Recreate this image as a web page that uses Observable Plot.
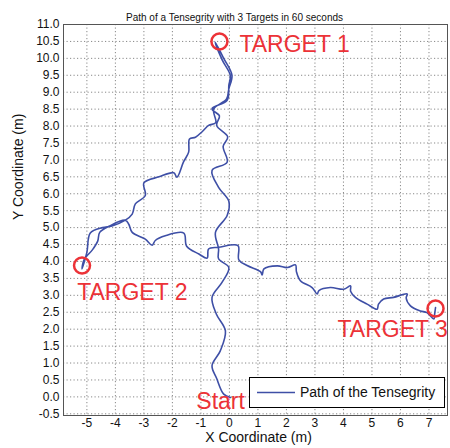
<!DOCTYPE html>
<html>
<head>
<meta charset="utf-8">
<script src="https://cdn.jsdelivr.net/npm/d3@7"></script>
<script src="https://cdn.jsdelivr.net/npm/@observablehq/plot@0.6"></script>
<style>
  html, body { margin: 0; padding: 0; background: white; }
</style>
</head>
<body>
<div id="chart"></div>
<script>
// ---- data ----
const pathX = [
  0.04, -0.2, -0.45, -0.61, -0.32, -0.14, -0.46, -0.61, -0.26, -0.02,
  -0.38, -0.38, -0.49, -0.08, -0.02, -0.38, -0.61, -0.08, -0.22, -0.06,
  -0.45, -0.35, -0.61, -0.08, -0.02, 0.03, -0.25, -0.5,
  -0.2, 0.09, -0.02, -0.1, -0.55, -0.48, -0.73, -0.95, -1.19, -1.4,
  -1.43, -1.61, -1.84, -1.95, -2.47, -3.0, -2.95, -3.3, -3.41, -3.65,
  -4.12, -4.45, -4.88, -5.0, -5.17, -5.1, -4.8, -4.62, -4.55, -4.2, -3.65,
  -3.53, -3.41, -2.95, -2.71, -2.6, -2.25, -1.6, -1.5, -1.07, -0.78,
  -0.73, -0.38, 0.3, 0.33, 0.62, 1.09, 1.15, 1.21, 1.68, 2.03, 2.32,
  2.35, 2.49, 2.9, 3.08, 3.14, 3.54, 4.01, 4.25, 4.25, 4.42, 4.83, 5.18,
  5.23, 5.41, 5.76, 6.24, 6.2, 6.35, 6.7, 6.93, 7.17, 7.2, 7.23
];
const pathY = [
  -0.02, 0.08, 0.55, 0.92, 1.36, 1.95, 2.45, 2.94, 3.38, 3.82,
  4.08, 4.37, 4.86, 5.36, 5.78, 6.19, 6.69, 6.93, 7.4, 7.68,
  8.02, 8.3, 8.51, 8.76, 9.2, 9.5, 9.95, 10.48,
  10.0, 9.5, 9.1, 8.8, 8.5, 8.1, 8.02, 7.84, 7.67, 7.62,
  7.23, 6.94, 6.49, 6.62, 6.5, 6.32, 5.95, 5.7, 5.4, 5.22,
  5.05, 5.0, 4.84, 4.27, 3.78, 4.05, 4.35, 4.6, 4.86, 5.05, 5.22,
  5.1, 4.86, 4.66, 4.48, 4.62, 4.76, 4.84, 4.45, 4.22, 4.1,
  4.37, 4.42, 4.47, 4.05, 3.88, 3.7, 3.6, 3.78, 3.87, 3.82, 3.9,
  3.7, 3.43, 3.23, 3.04, 3.14, 3.23, 3.18, 3.28, 3.12, 2.94, 2.74, 2.59,
  2.74, 2.89, 2.94, 3.04, 2.92, 2.69, 2.54, 2.49, 2.3, 2.45, 2.64
];
const targetX = [-0.35, -5.17, 7.23];
const targetY = [10.5, 3.88, 2.61];
const labelText = ["TARGET 1", "TARGET 2", "TARGET 3", "Start"];
const labelX = [0.35, -5.34, 3.79, -1.16];
const labelY = [10.41, 3.08, 1.99, -0.15];
const xTicks = [-5, -4, -3, -2, -1, 0, 1, 2, 3, 4, 5, 6, 7];
const yTicks = [-0.5, 0, 0.5, 1, 1.5, 2, 2.5, 3, 3.5, 4, 4.5, 5, 5.5, 6, 6.5, 7, 7.5, 8, 8.5, 9, 9.5, 10, 10.5, 11];
const titleText = "Path of a Tensegrity with 3 Targets in 60 seconds";
const xLabel = "X Coordinate (m)";
const yLabel = "Y Coordinate (m)";
const legendLabel = "Path of the Tensegrity";

// ---- tables ----
const path = pathX.map((x, i) => ({x, y: pathY[i]}));
const targets = targetX.map((x, i) => ({x, y: targetY[i]}));
const labels = labelText.map((t, i) => ({t, x: labelX[i], y: labelY[i]}));

const blue = "#3e4fa6";
const red = "#ec3237";
const gridStyle = {stroke: "#888", strokeDasharray: "1.2,2.3", strokeWidth: 1};

const chart = Plot.plot({
  width: 450,
  height: 448,
  marginLeft: 63,
  marginRight: 3,
  marginTop: 24,
  marginBottom: 33,
  style: {fontFamily: "'Liberation Sans', Arial, sans-serif", fontSize: "12px", color: "#111", background: "white"},
  x: {domain: [-5.82, 7.65]},
  y: {domain: [-0.55, 11]},
  marks: [
    Plot.ruleX(xTicks, gridStyle),
    Plot.ruleY(yTicks, gridStyle),
    Plot.axisX({ticks: xTicks, tickSize: 0, tickPadding: 2.5, label: null, tickFormat: d => String(d), fontSize: 12}),
    Plot.axisY({ticks: yTicks, tickSize: 0, tickPadding: 4, label: null, tickFormat: d => d.toFixed(1), fontSize: 12}),
    Plot.line(path, {x: "x", y: "y", curve: "catmull-rom", stroke: blue, strokeWidth: 1.6}),
    Plot.dot(targets, {x: "x", y: "y", r: 8, stroke: red, strokeWidth: 2.5, fill: "none"}),
    Plot.text(labels, {x: "x", y: "y", text: "t", textAnchor: "start", fill: red, fontSize: 23}),
    Plot.frame({stroke: "#555"}),
    Plot.text([titleText], {frameAnchor: "top", dy: -11, dx: -21, fontSize: 10, fill: "#111"}),
    Plot.text([xLabel], {frameAnchor: "bottom", dy: 26.5, dx: 3, fontSize: 14, fill: "#111"}),
    Plot.text([yLabel], {frameAnchor: "left", dx: -45, rotate: -90, fontSize: 14, fill: "#111"})
  ]
});

// legend inside the plot (lower right)
const svg = d3.select(chart);
const lg = svg.append("g").attr("text-anchor", "start");
lg.append("rect").attr("x", 249.5).attr("y", 377.5).attr("width", 195).attr("height", 30)
  .attr("fill", "white").attr("stroke", "black").attr("stroke-width", 1);
lg.append("line").attr("x1", 257).attr("x2", 295).attr("y1", 392.5).attr("y2", 392.5)
  .attr("stroke", blue).attr("stroke-width", 1.6);
lg.append("text").attr("x", 300).attr("y", 392.5).attr("dy", "0.35em")
  .attr("text-anchor", "start")
  .attr("font-size", 14).attr("fill", "#111").text(legendLabel);

document.getElementById("chart").appendChild(chart);
</script>
</body>
</html>
